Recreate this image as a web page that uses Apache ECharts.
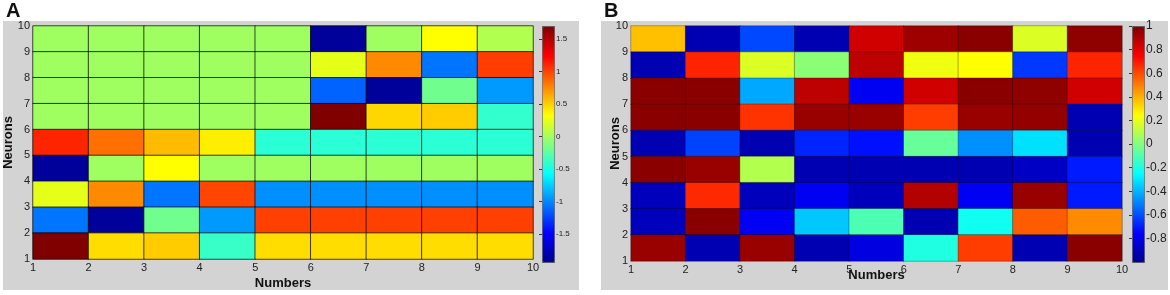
<!DOCTYPE html>
<html>
<head>
<meta charset="utf-8">
<script src="https://cdn.jsdelivr.net/npm/echarts@6/dist/echarts.min.js"></script>
<style>
  html, body { margin: 0; padding: 0; background: #fff; }
  #chart { width: 1170px; height: 295px; }
</style>
</head>
<body>
<div id="chart"></div>
<script>
// 9 x 9 cells, rows listed from the top (neurons 9-10) down to the bottom (neurons 1-2)
var cellCols = [1, 2, 3, 4, 5, 6, 7, 8, 9];
var cellRows = [1, 2, 3, 4, 5, 6, 7, 8, 9];
var tickLabels = [1, 2, 3, 4, 5, 6, 7, 8, 9, 10];

var valuesA = [
  [0, 0, 0, 0, 0, -1.88, 0, 0.34, 0.06],
  [0, 0, 0, 0, 0, 0.25, 0.76, -1.06, 1.03],
  [0, 0, 0, 0, 0, -1.13, -1.88, -0.17, -0.93],
  [0, 0, 0, 0, 0, 1.7, 0.48, 0.52, -0.39],
  [1.12, 0.85, 0.58, 0.4, -0.42, -0.42, -0.42, -0.42, -0.42],
  [-1.88, 0, 0.34, 0, 0, 0, 0, 0, 0],
  [0.25, 0.76, -1.06, 1.0, -0.97, -0.97, -0.97, -0.97, -0.97],
  [-1.06, -1.88, -0.17, -0.93, 1.02, 1.02, 1.02, 1.02, 1.02],
  [1.7, 0.46, 0.52, -0.37, 0.46, 0.46, 0.46, 0.46, 0.46]
];

var valuesB = [
  [0.375, -0.92, -0.61, -0.92, 0.84, 0.94, 0.98, 0.18, 0.97],
  [-0.92, 0.68, 0.18, 0.02, 0.88, 0.22, 0.25, -0.64, 0.68],
  [0.98, 0.98, -0.42, 0.88, -0.78, 0.84, 0.98, 0.97, 0.84],
  [0.98, 0.98, 0.65, 0.95, 0.95, 0.63, 0.95, 0.96, -0.92],
  [-0.92, -0.62, -0.92, -0.68, -0.72, -0.05, -0.47, -0.31, -0.92],
  [0.98, 0.95, 0.1, -0.92, -0.92, -0.92, -0.92, -0.88, -0.7],
  [-0.9, 0.67, -0.9, -0.78, -0.9, 0.9, -0.78, 0.95, -0.7],
  [-0.9, 0.98, -0.78, -0.36, -0.1, -0.92, -0.22, 0.57, 0.48],
  [0.95, -0.92, 0.95, -0.92, -0.82, -0.19, 0.63, -0.92, 0.98]
];

var rangeA = [-1.93, 1.7];
var rangeB = [-1, 1];
var colorbarTicksA = [-1.5, -1, -0.5, 0, 0.5, 1, 1.5];
var colorbarTicksB = [-0.8, -0.6, -0.4, -0.2, 0, 0.2, 0.4, 0.6, 0.8, 1];

// jet colormap sampled every 1/8
var jet = ['#00008f', '#0000ff', '#0080ff', '#00ffff', '#80ff80', '#ffff00', '#ff8000', '#ff0000', '#800000'];

var font = 'Arial, "Liberation Sans", sans-serif';

function toCells(rows) {
  var out = [];
  for (var r = 0; r < rows.length; r++) {
    for (var c = 0; c < rows[r].length; c++) {
      out.push([c, rows.length - 1 - r, rows[r][c]]);
    }
  }
  return out;
}

function catAxis(grid, data) {
  return { type: 'category', gridIndex: grid, data: data, show: false };
}

function tickAxis(grid, name, gap, isY) {
  return {
    type: 'value',
    gridIndex: grid,
    position: isY ? 'left' : 'bottom',
    min: 1,
    max: 10,
    interval: 1,
    axisLine: { show: false },
    axisTick: { show: false },
    splitLine: { show: false },
    axisLabel: {
      fontSize: 11,
      color: '#222',
      fontFamily: font,
      margin: 3,
      formatter: function (v) { return tickLabels[v - 1]; }
    },
    name: name,
    nameLocation: 'middle',
    nameGap: gap,
    nameMoveOverlap: false,
    nameRotate: isY ? 90 : 0,
    nameTextStyle: { fontSize: 13, fontWeight: 'bold', color: '#111', fontFamily: font }
  };
}

function barAxis(grid, range, ticks, size) {
  return {
    type: 'value',
    gridIndex: grid,
    min: range[0],
    max: range[1],
    position: 'right',
    axisLine: { show: false },
    splitLine: { show: false },
    axisTick: { inside: true, length: 3, lineStyle: { color: '#333' }, customValues: ticks },
    axisLabel: {
      fontSize: size,
      color: '#222',
      fontFamily: font,
      margin: 2,
      customValues: ticks,
      formatter: function (v) { return String(v); }
    }
  };
}

var chart = echarts.init(document.getElementById('chart'));

var option = {
  animation: false,
  graphic: [
    { type: 'rect', z: -10, shape: { x: 3, y: 21, width: 576, height: 269 }, style: { fill: '#d3d3d3' } },
    { type: 'rect', z: -10, shape: { x: 601, y: 21, width: 567, height: 269 }, style: { fill: '#d3d3d3' } },
    { type: 'text', left: 6, top: 1, style: { text: 'A', font: 'bold 20px ' + font, fill: '#111' } },
    { type: 'text', left: 604, top: 1, style: { text: 'B', font: 'bold 20px ' + font, fill: '#111' } }
  ],
  grid: [
    { left: 33, right: 637, top: 26, bottom: 34 },
    { left: 631, right: 48, top: 26, bottom: 34 },
    { left: 542, width: 12, top: 26, height: 236 },
    { left: 1132, width: 12, top: 26, height: 236 }
  ],
  xAxis: [
    catAxis(0, cellCols),
    tickAxis(0, 'Numbers', 18, false),
    catAxis(1, cellCols),
    tickAxis(1, 'Numbers', 8, false),
    { type: 'value', gridIndex: 2, show: false },
    { type: 'value', gridIndex: 3, show: false }
  ],
  yAxis: [
    catAxis(0, cellRows),
    tickAxis(0, 'Neurons', 18, true),
    catAxis(1, cellRows),
    tickAxis(1, 'Neurons', 9, true),
    barAxis(2, rangeA, colorbarTicksA, 8),
    barAxis(3, rangeB, colorbarTicksB, 12)
  ],
  visualMap: [
    {
      type: 'continuous', seriesIndex: 0, min: rangeA[0], max: rangeA[1],
      inRange: { color: jet }, calculable: false, hoverLink: false,
      left: 542, top: 26, itemWidth: 12, itemHeight: 236, padding: 0,
      borderColor: '#555', borderWidth: 1
    },
    {
      type: 'continuous', seriesIndex: 1, min: rangeB[0], max: rangeB[1],
      inRange: { color: jet }, calculable: false, hoverLink: false,
      left: 1132, top: 26, itemWidth: 12, itemHeight: 236, padding: 0,
      borderColor: '#555', borderWidth: 1
    }
  ],
  series: [
    {
      type: 'heatmap',
      xAxisIndex: 0,
      yAxisIndex: 0,
      data: toCells(valuesA),
      itemStyle: { borderColor: 'rgba(0,0,0,0.7)', borderWidth: 1 }
    },
    {
      type: 'heatmap',
      xAxisIndex: 2,
      yAxisIndex: 2,
      data: toCells(valuesB),
      itemStyle: { borderColor: 'rgba(0,0,0,0.3)', borderWidth: 1 }
    }
  ]
};

chart.setOption(option);
</script>
</body>
</html>
